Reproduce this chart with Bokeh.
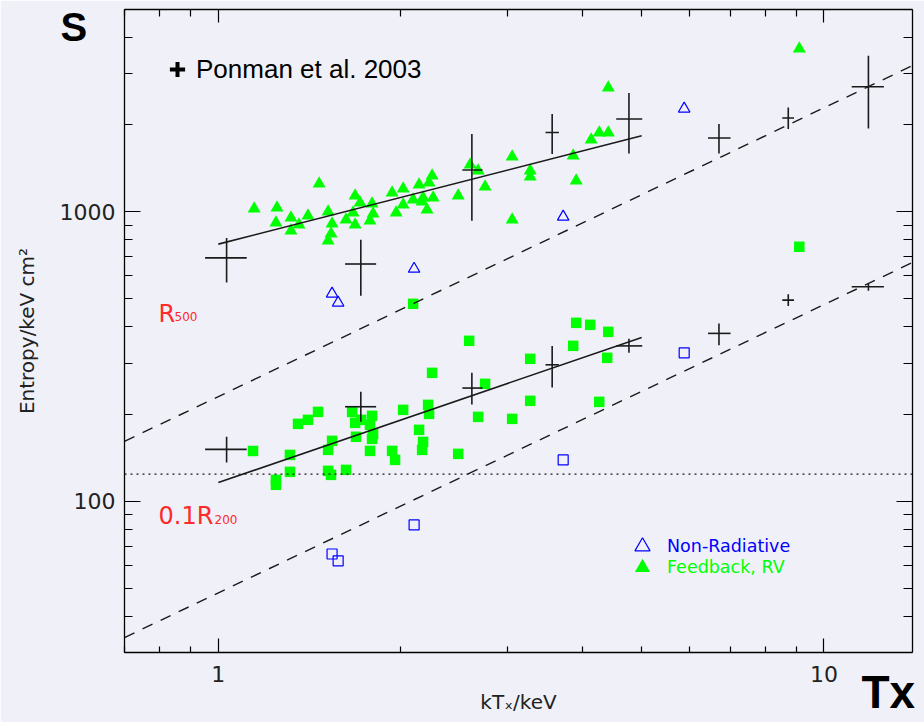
from bokeh.plotting import figure
from bokeh.models import (FixedTicker, LogAxis, PrintfTickFormatter, CustomJSTickFormatter,
                          Span, Label, Legend, LegendItem, Title)
from bokeh.embed import file_html
from bokeh.resources import INLINE

# ---------------- data ----------------
# Feedback, RV simulation: entropy at R500 (triangles)
fb_tri_T = [1.146, 1.250, 1.245, 1.318, 1.318, 1.359, 1.406, 1.467, 1.518, 1.541, 1.535, 1.518,
            1.625, 1.669, 1.682, 1.682, 1.714, 1.780, 1.794, 1.801, 1.936, 1.966, 2.019, 2.019,
            2.097, 2.145, 2.170, 2.211, 2.254, 2.228, 2.263, 2.178, 2.489, 2.605, 2.685, 2.757,
            3.056, 3.056, 3.273, 3.273, 3.854, 3.898, 4.127, 4.255, 4.404, 4.404, 9.104]
fb_tri_S = [1024, 1032, 916, 953, 860, 902, 969, 1250, 1000, 909, 839, 794,
            938, 992, 1136, 902, 1074, 931, 1066, 984, 1163, 992, 1201, 1057,
            1100, 1240, 1083, 1016, 1332, 1260, 1118, 1118, 1136, 1454, 1386, 1220,
            1549, 938, 1386, 1321, 1562, 1280, 1774, 1875, 1875, 2683, 3660]

# Feedback, RV simulation: entropy at 0.1 R200 (squares)
fb_sq_T = [1.141, 1.245, 1.245, 1.313, 1.313, 1.354, 1.406, 1.461, 1.518, 1.541, 1.518, 1.535,
           1.625, 1.663, 1.682, 1.688, 1.721, 1.794, 1.780, 1.801, 1.794, 1.780, 1.936, 1.958,
           2.019, 2.145, 2.178, 2.170, 2.220, 2.228, 2.254, 2.489, 2.595, 2.757, 2.685, 3.056,
           3.273, 3.273, 3.854, 3.898, 4.111, 4.404, 4.386, 4.255, 2.097, 9.104]
fb_sq_S = [149.2, 118.5, 113.9, 144.5, 126.3, 185.0, 191.0, 203.5, 150.4, 161.6, 127.3, 123.3,
           128.3, 203.5, 186.5, 166.9, 191.0, 197.2, 183.5, 170.8, 164.2, 149.2, 149.2, 138.9,
           206.8, 176.4, 160.3, 150.4, 215.2, 200.3, 277.6, 145.7, 358.2, 254.4, 195.6, 192.5,
           310.4, 222.2, 344.2, 413.3, 406.8, 384.7, 312.9, 220.4, 480.8, 757.0]

# Non-radiative simulation
nr_T = [1.541, 1.577, 2.105, 3.710, 5.877]
nr_S500 = [521, 485, 635, 961, 2270]
nr_S01 = [65.7, 62.2, 82.8, 138.9, 325.5]

# Ponman et al. 2003 (binned, with error bars)
pm_T = [1.032, 1.719, 2.622, 3.558, 4.764, 6.708, 8.730, 11.84]
pm_T_lo = [0.951, 1.619, 2.529, 3.469, 4.539, 6.434, 8.534, 11.11]
pm_T_hi = [1.114, 1.822, 2.730, 3.650, 5.011, 7.010, 8.923, 12.56]
pm_S500 = [693, 660, 1394, 1880, 2091, 1798, 2108, 2704]
pm_S500_lo = [570, 513, 931, 1583, 1591, 1591, 1932, 1941]
pm_S500_hi = [811, 800, 1856, 2176, 2572, 2010, 2294, 3462]
pm_S01 = [151, 212, 246, 296, 344, 380, 495, 551]
pm_S01_lo = [136, 188, 216, 247, 326, 346, 473, 533]
pm_S01_hi = [167, 239, 278, 344, 364, 411, 519, 565]

# fits (solid) and self-similar relations (dashed)
fit_T = [1.0, 5.0]
fit_S500 = [773, 1831]
fit_S01 = [116, 368]
ss_T = [0.7, 14.0]
ss_S500 = [161, 3200]
ss_S01 = [33.8, 668]
floor_S = 124

x_major = [1, 10]
x_minor = [0.7, 0.8, 0.9, 2, 3, 4, 5, 6, 7, 8, 9]
y_major = [100, 1000]
y_minor = [30, 40, 50, 60, 70, 80, 90, 200, 300, 400, 500, 600, 700, 800, 900,
           2000, 3000, 4000, 5000]

# ---------------- style ----------------
BG = "#f0f1f8"
GREEN = "#00ff00"
BLUE = "#0000ff"
RED = "#ff2a2a"
INK = "#1a1a1a"
LIGHT_FONT = "DejaVu Sans"

p = figure(width=924, height=722, x_axis_type="log", y_axis_type="log",
           x_range=(0.7, 14), y_range=(30, 5000),
           output_backend="svg", toolbar_location=None,
           min_border_left=124, min_border_right=12, min_border_top=9, min_border_bottom=70,
           background_fill_color=BG, border_fill_color=BG, outline_line_color=None)
p.grid.visible = False


def style_axis(ax, tick_major, tick_minor):
    ax.axis_line_color = "black"
    ax.axis_line_width = 1.3
    ax.major_tick_in = tick_major
    ax.major_tick_out = 0
    ax.minor_tick_in = tick_minor
    ax.minor_tick_out = 0
    ax.major_tick_line_color = "black"
    ax.minor_tick_line_color = "black"
    ax.major_tick_line_width = 1.2
    ax.minor_tick_line_width = 1.2
    ax.major_label_text_font = LIGHT_FONT
    ax.major_label_text_font_size = "22px"
    ax.major_label_text_color = "#222222"
    ax.axis_label_text_font = LIGHT_FONT
    ax.axis_label_text_font_style = "normal"
    ax.axis_label_text_font_size = "20px"
    ax.axis_label_text_color = "#222222"


xa = p.xaxis[0]
xa.ticker = FixedTicker(ticks=x_major, minor_ticks=x_minor)
xa.formatter = PrintfTickFormatter(format="%d")
style_axis(xa, 14, 6)
xa.major_label_standoff = 13
xa.axis_label = "kTₓ/keV"
xa.axis_label_standoff = 5

ya = p.yaxis[0]
ya.ticker = FixedTicker(ticks=y_major, minor_ticks=y_minor)
ya.formatter = PrintfTickFormatter(format="%d")
style_axis(ya, 16, 8)
ya.major_label_standoff = 9
ya.axis_label = "Entropy/keV cm²"
ya.axis_label_standoff = 18

blank = CustomJSTickFormatter(code="return ''")
top = LogAxis(ticker=FixedTicker(ticks=x_major, minor_ticks=x_minor), formatter=blank)
style_axis(top, 13, 7)
top.major_label_text_font_size = "0px"
top.major_label_standoff = 0
p.add_layout(top, "above")

right = LogAxis(ticker=FixedTicker(ticks=y_major, minor_ticks=y_minor), formatter=blank)
style_axis(right, 16, 9)
right.major_label_text_font_size = "0px"
right.major_label_standoff = 0
p.add_layout(right, "right")

# ---------------- markers ----------------
r_fb_tri = p.scatter(fb_tri_T, fb_tri_S, marker="triangle", size=13,
                     fill_color=GREEN, line_color=None)
p.scatter(fb_sq_T, fb_sq_S, marker="square", size=10.5, fill_color=GREEN, line_color=None)
r_nr_tri = p.scatter(nr_T, nr_S500, marker="triangle", size=11.5, fill_color=None,
                     line_color=BLUE, line_width=1.2)
p.scatter(nr_T, nr_S01, marker="square", size=10, fill_color=None,
          line_color=BLUE, line_width=1.2)

# ---------------- lines ----------------
p.line(ss_T, ss_S500, line_color=INK, line_width=1.4, line_dash="11 9")
p.line(ss_T, ss_S01, line_color=INK, line_width=1.4, line_dash="11 9")
p.add_layout(Span(location=floor_S, dimension="width", line_color=INK,
                  line_width=1.4, line_dash="2 4"))
p.line(fit_T, fit_S500, line_color=INK, line_width=1.6)
p.line(fit_T, fit_S01, line_color=INK, line_width=1.6)

# Ponman et al. error-bar crosses
for S, lo, hi in [(pm_S500, pm_S500_lo, pm_S500_hi), (pm_S01, pm_S01_lo, pm_S01_hi)]:
    p.segment(x0=pm_T_lo, y0=S, x1=pm_T_hi, y1=S, line_color=INK, line_width=1.6)
    p.segment(x0=pm_T, y0=lo, x1=pm_T, y1=hi, line_color=INK, line_width=1.6)
r_pm = p.scatter(pm_T, pm_S500, marker="cross", size=0, line_color="black", line_width=4)

# ---------------- legends ----------------
def make_legend(label, renderer, loc, glyph, standoff, font, size, color):
    leg = Legend(items=[LegendItem(label=label, renderers=[renderer])], location=loc,
                 glyph_width=glyph, glyph_height=glyph, label_standoff=standoff,
                 label_text_font=font, label_text_font_size=size, label_text_color=color,
                 padding=0, margin=0, spacing=0, border_line_color=None,
                 background_fill_alpha=0)
    p.add_layout(leg)


make_legend("Ponman et al. 2003", r_pm, (34, 564), 38, 0, "Liberation Sans", "26px", "black")
make_legend("Non-Radiative", r_nr_tri, (499, 87), 38, 6, LIGHT_FONT, "17.5px", BLUE)
make_legend("Feedback, RV", r_fb_tri, (499, 66), 38, 6, LIGHT_FONT, "17.5px", GREEN)

# ---------------- annotation texts ----------------
def lab(text, x, y, size, color, font=LIGHT_FONT, style="normal"):
    p.add_layout(Label(x=x, y=y, x_units="screen", y_units="screen", text=text,
                       text_font=font, text_font_size=size, text_font_style=style,
                       text_color=color, text_baseline="alphabetic", text_align="left"))


lab("R", 34, 339, "24px", RED)
lab("500", 50, 336, "12px", RED)
lab("0.1R", 34, 137, "24px", RED)
lab("200", 90, 133, "12px", RED)

# big panel letters in the margins: side-panel titles (negative standoff keeps the
# frame where it is while moving the text back over the margin)
p.add_layout(Title(text="S", text_font="Liberation Sans", text_font_size="40px",
                   text_font_style="bold", text_color="black", align="left",
                   vertical_align="bottom", offset=-64, standoff=-78), "above")
p.add_layout(Title(text="Tx", text_font="Liberation Sans", text_font_size="46px",
                   text_font_style="bold", text_color="black", align="left",
                   vertical_align="top", offset=737, standoff=-102), "below")

open("out.html", "w").write(file_html(p, INLINE))
